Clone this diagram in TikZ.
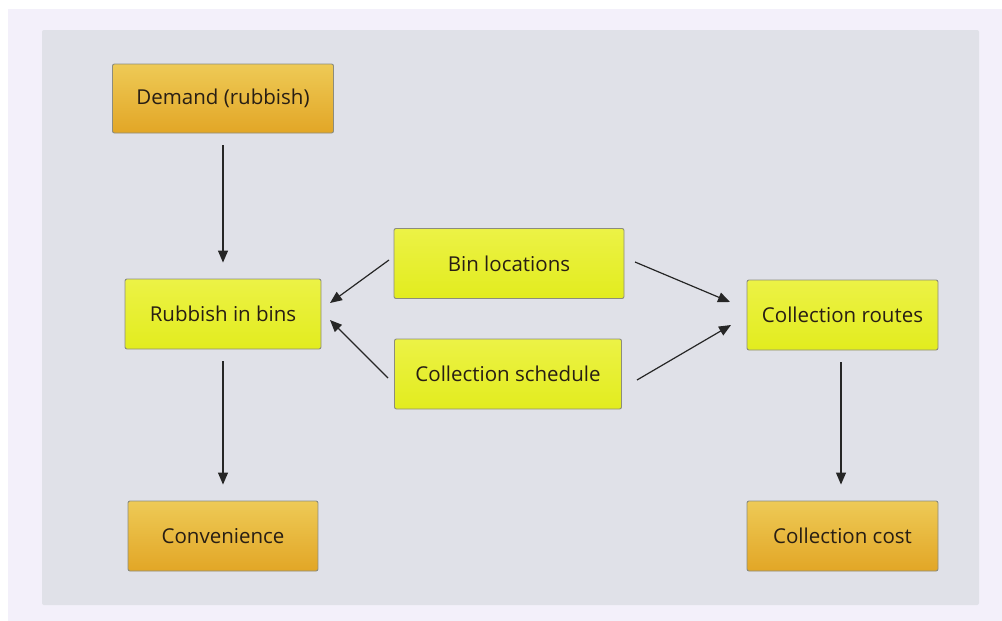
\documentclass[tikz,border=0pt]{standalone}
\usepackage{fontspec}
\setmainfont{Open Sans}
\usetikzlibrary{arrows.meta}
\definecolor{lav}{RGB}{243,240,250}
\definecolor{panel}{RGB}{224,225,232}
\definecolor{otop}{RGB}{238,202,86}
\definecolor{obot}{RGB}{226,166,38}
\definecolor{ytop}{RGB}{236,242,70}
\definecolor{ybot}{RGB}{226,236,30}
\definecolor{edge}{RGB}{140,140,125}
\definecolor{txt}{RGB}{40,30,20}
\tikzset{
  box/.style={draw=edge, line width=0.9pt, rounded corners=2pt, inner sep=0pt, anchor=center,
    font=\fontsize{20.5}{24}\selectfont, text=txt},
  obox/.style={box, top color=otop, bottom color=obot},
  ybox/.style={box, top color=ytop, bottom color=ybot},
  arr/.style={-{Triangle[length=12pt,width=10pt]}, line width=1.2pt, black!85}
}
\begin{document}
\begin{tikzpicture}[x=1pt,y=-1pt]
\useasboundingbox (0,0) rectangle (1002,621);
\fill[white] (0,0) rectangle (1002,621);
\fill[lav] (8,9) rectangle (1002,621);
\fill[panel, rounded corners=2pt] (42,30) rectangle (979,605);
\node[obox, minimum width=221pt, minimum height=69pt] (dem) at (223,98.5) {Demand (rubbish)};
\node[ybox, minimum width=196pt, minimum height=70pt] (rib) at (223,314) {Rubbish in bins};
\node[obox, minimum width=190pt, minimum height=70pt] (con) at (223,536) {Convenience};
\node[ybox, minimum width=230pt, minimum height=70pt] (bin) at (509,263.5) {Bin locations};
\node[ybox, minimum width=227pt, minimum height=70pt] (sch) at (508,374) {Collection schedule};
\node[ybox, minimum width=191pt, minimum height=70pt] (rou) at (842.5,315) {Collection routes};
\node[obox, minimum width=191pt, minimum height=70pt] (cos) at (842.5,536) {Collection cost};
\draw[arr, shorten <=12pt, shorten >=16pt] (dem.south) -- (rib.north);
\draw[arr, shorten <=12pt, shorten >=16pt] (rib.south) -- (con.north);
\draw[arr, shorten <=12pt, shorten >=16pt] (rou.south -| 841,0) -- (cos.north -| 841,0);
\coordinate (b1) at (389,260); \coordinate (b2) at (330,303);
\coordinate (s1) at (388,378); \coordinate (s2) at (330,320);
\coordinate (r1) at (635,262); \coordinate (r2) at (730,302);
\coordinate (q1) at (637,380); \coordinate (q2) at (731,325);
\draw[arr] (b1) -- (b2);
\draw[arr] (s1) -- (s2);
\draw[arr] (r1) -- (r2);
\draw[arr] (q1) -- (q2);
\end{tikzpicture}
\end{document}
